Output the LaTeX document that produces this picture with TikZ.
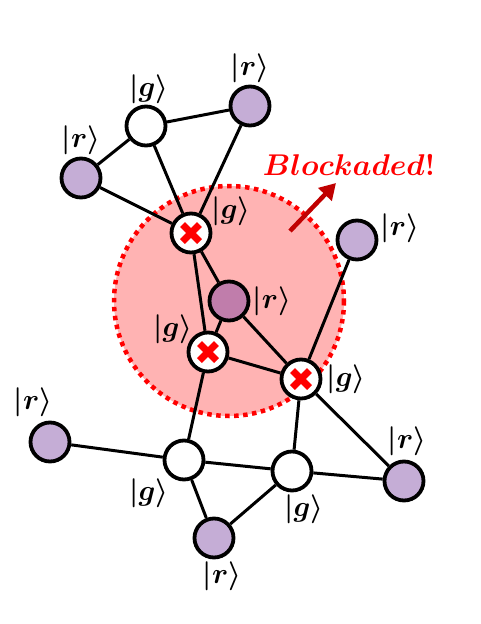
\documentclass[tikz,border=0pt]{standalone}
\usepackage{fix-cm}
\usepackage{amsmath,amssymb}
\usetikzlibrary{arrows.meta, positioning, backgrounds}
\definecolor{rydLight}{HTML}{C5ADD6}
\definecolor{rydDark}{HTML}{C07DAB}
\definecolor{zonePink}{HTML}{FFB3B3}
\definecolor{arrowRed}{HTML}{C00000}
\newcommand{\gket}{$\boldsymbol{|g\rangle}$}
\newcommand{\rket}{$\boldsymbol{|r\rangle}$}

\begin{document}
\begin{tikzpicture}[x=1pt, y=-1pt,
  atom/.style={circle, draw, line width=3.8pt, minimum size=39pt, inner sep=0pt},
  gnd/.style={atom, fill=white},
  ryd/.style={atom, fill=rydLight},
  blk/.style={gnd, path picture={
    \draw[red, line width=7pt]
      ([shift={(-8.5pt,-8.5pt)}]path picture bounding box.center) --
      ([shift={(8.5pt,8.5pt)}]path picture bounding box.center)
      ([shift={(-8.5pt,8.5pt)}]path picture bounding box.center) --
      ([shift={(8.5pt,-8.5pt)}]path picture bounding box.center);}},
  lbl/.style={font=\fontsize{29}{33}\selectfont, inner sep=1pt},
  link/.style={line width=3pt},
]
  \useasboundingbox (0,0) rectangle (480,624);

  % atoms
  \node[gnd] (g1) at (146,126) {};
  \node[ryd] (r1) at (250,106) {};
  \node[ryd] (r2) at (81,178) {};
  \node[blk] (gx1) at (191,233) {};
  \node[ryd] (r3) at (357,240) {};
  \node[ryd, fill=rydDark] (rc) at (229,301) {};
  \node[blk] (gx2) at (208,352) {};
  \node[blk] (gx3) at (301,379) {};
  \node[ryd] (r4) at (50,442) {};
  \node[gnd] (g2) at (184,460) {};
  \node[gnd] (g3) at (292,471) {};
  \node[ryd] (r5) at (404,481) {};
  \node[ryd] (r6) at (214,538) {};

  % state labels
  \node[lbl, above=0pt of g1, xshift=3pt] (g1lbl) {\gket};
  \node[lbl, above=1pt of r1] (r1lbl) {\rket};
  \node[lbl, above=1pt of r2] (r2lbl) {\rket};
  \node[lbl, right=-2pt of gx1, yshift=22pt] (gx1lbl) {\gket};
  \node[lbl, right=1pt of r3, yshift=12pt] (r3lbl) {\rket};
  \node[lbl, right=1pt of rc] (rclbl) {\rket};
  \node[lbl, left=-7pt of gx2, yshift=23pt] (gx2lbl) {\gket};
  \node[lbl, right=3pt of gx3] (gx3lbl) {\gket};
  \node[lbl, above=3pt of r4, xshift=-17pt] (r4lbl) {\rket};
  \node[lbl, below=-4pt of g2, xshift=-35pt] (g2lbl) {\gket};
  \node[lbl, below=1pt of g3, xshift=12pt] (g3lbl) {\gket};
  \node[lbl, above=3pt of r5, xshift=3pt] (r5lbl) {\rket};
  \node[lbl, below=1pt of r6, xshift=8pt] (r6lbl) {\rket};

  % blockade note
  \node[text=red, font=\fontsize{30}{34}\selectfont] (blkText) at (349,165) {$\boldsymbol{Blockaded!}$};
  \coordinate (arrTail) at (290,231);
  \coordinate (arrTip) at (336,183);
  \draw[arrowRed, line width=4.5pt, -{Triangle[length=16pt,width=18pt]}] (arrTail) -- (arrTip);

  \begin{scope}[on background layer]
    \fill[zonePink] (rc) circle[radius=115];
    \draw[red, line width=4.5pt, dash pattern=on 4.5pt off 4.5pt] (rc) circle[radius=115];
    \draw[link] (g1) -- (r1) (g1) -- (r2) (g1) -- (gx1)
      (r1) -- (gx1) (r2) -- (gx1)
      (gx1) -- (rc) (gx1) -- (gx2)
      (rc) -- (gx2) (rc) -- (gx3) (gx2) -- (gx3)
      (gx3) -- (r3) (gx3) -- (g3) (gx3) -- (r5)
      (gx2) -- (g2) (r4) -- (g2)
      (g2) -- (g3) (g2) -- (r6) (g3) -- (r6) (g3) -- (r5);
  \end{scope}
\end{tikzpicture}
\end{document}
